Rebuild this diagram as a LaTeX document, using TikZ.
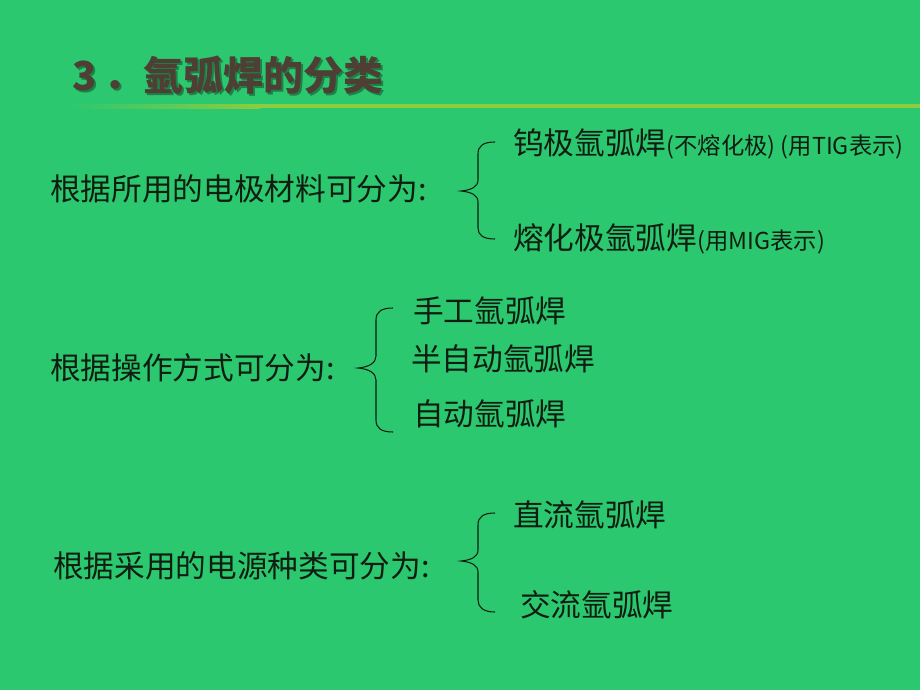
\documentclass[tikz,border=0pt]{standalone}
\usepackage{fontspec}
\setmainfont{Noto Sans CJK SC}
\usetikzlibrary{calc}
\definecolor{bg}{RGB}{44,200,112}
\definecolor{txt}{RGB}{16,30,18}
\definecolor{titlec}{RGB}{78,62,52}
\definecolor{linec}{RGB}{140,204,62}
\tikzset{
  item/.style={anchor=west, inner sep=0pt, text=txt, font=\fontsize{23}{26}\selectfont},
  titlestyle/.style={anchor=west, inner sep=0pt, font=\fontsize{30}{36}\selectfont\bfseries},
  bracepath/.style={draw=txt, line width=0.8pt},
}
\newcommand{\sm}[1]{{\fontsize{17.5}{20}\selectfont #1}}
\begin{document}
\begin{tikzpicture}[x=0.75pt,y=-0.75pt]
\fill[bg] (0,0) rectangle (920,690);
\useasboundingbox (0,0) rectangle (920,690);
% title
\node[titlestyle, text=black, opacity=0.35] (titleshadow) at (74,77) {3\,．氩弧焊的分类};
\node[titlestyle, text=titlec] (title) at (72,75) {3\,．氩弧焊的分类};
% underline
\shade[left color=bg, right color=linec] (70,104) rectangle (260,108);
\fill[linec] (259,104) rectangle (920,108);
% group 1
\node[item] (g1) at (50,189) {根据所用的电极材料可分为:};
\node[item] (g1a) at (513,144) {钨极氩弧焊\sm{(不熔化极) (用TIG表示)}};
\node[item] (g1b) at (513,239) {熔化极氩弧焊\sm{(用MIG表示)}};
\draw[bracepath] (495,142) .. controls (483,142) and (478,146) .. (478,154) -- (478,180)
  .. controls (478,187) and (471,190) .. (461,191)
  .. controls (471,192) and (478,195) .. (478,202) -- (478,228)
  .. controls (478,235) and (483,239) .. (495,239);
% group 2
\node[item] (g2) at (50,368) {根据操作方式可分为:};
\node[item] (g2a) at (413,311) {手工氩弧焊};
\node[item] (g2b) at (411,359) {半自动氩弧焊};
\node[item] (g2c) at (413,414) {自动氩弧焊};
\draw[bracepath] (393,308) .. controls (381,308) and (376,312) .. (376,320) -- (376,356)
  .. controls (376,363) and (369,367) .. (358,368)
  .. controls (369,369) and (376,373) .. (376,380) -- (376,420)
  .. controls (376,428) and (381,432) .. (393,432);
% group 3
\node[item] (g3) at (53,566) {根据采用的电源种类可分为:};
\node[item] (g3a) at (513,515) {直流氩弧焊};
\node[item] (g3b) at (520,605) {交流氩弧焊};
\draw[bracepath] (495,513) .. controls (483,513) and (478,517) .. (478,525) -- (478,550)
  .. controls (478,557) and (471,560) .. (461,561)
  .. controls (471,562) and (478,565) .. (478,572) -- (478,600)
  .. controls (478,607) and (483,612) .. (495,612);
\end{tikzpicture}
\end{document}
